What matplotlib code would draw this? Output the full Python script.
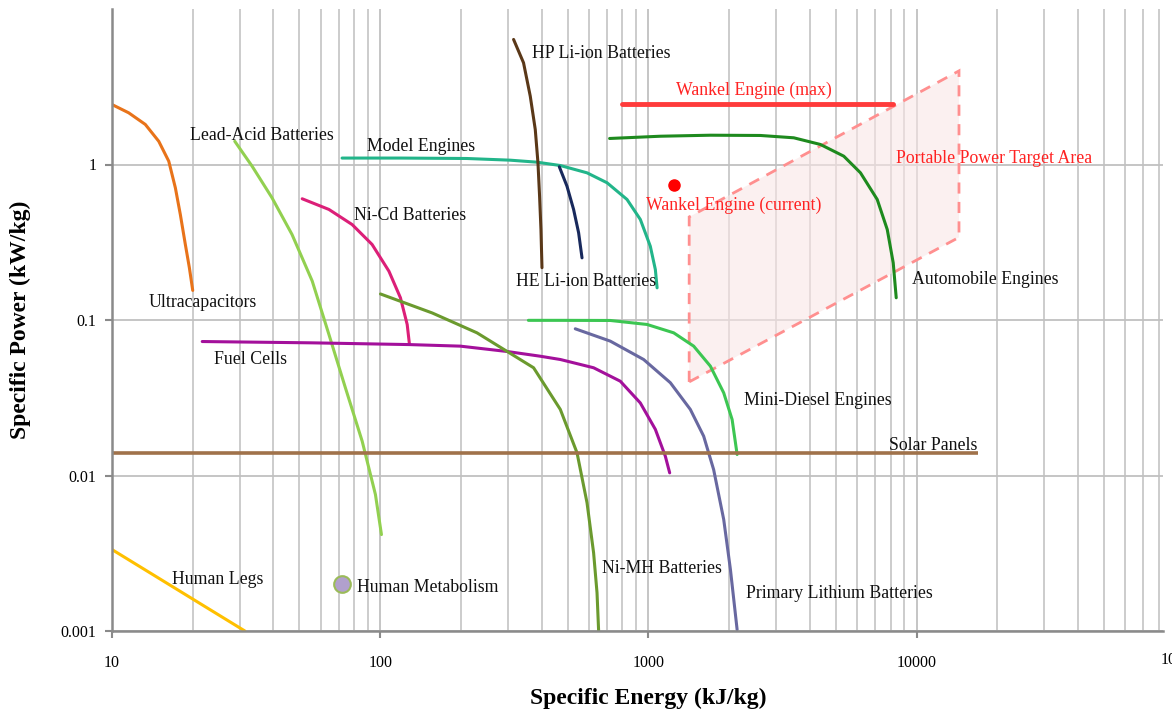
import matplotlib
matplotlib.use("Agg")
import matplotlib.pyplot as plt
from matplotlib.patches import Polygon

plt.rcParams['font.family'] = ['Liberation Serif', 'DejaVu Serif']
plt.rcParams['lines.solid_joinstyle'] = 'round'
plt.rcParams['lines.solid_capstyle'] = 'round'

# specific energy (kJ/kg) and specific power (kW/kg) per technology
ultracap_e = [10, 11.54, 13.31, 14.94, 16.28, 17.23, 17.98, 18.77, 19.43, 20.0]
ultracap_p = [2.43, 2.15, 1.81, 1.41, 1.05, 0.708, 0.477, 0.306, 0.217, 0.155]

lead_acid_e = [28.7, 33.3, 39.5, 46.9, 55.8, 64.4, 74.2, 85.7, 96.0, 101.1]
lead_acid_p = [1.41, 0.975, 0.611, 0.355, 0.178, 0.0807, 0.0366, 0.0166, 0.00755, 0.00417]

nicd_e = [51.2, 64.4, 78.6, 93.3, 107.8, 119.0, 126.1, 128.6]
nicd_p = [0.602, 0.514, 0.411, 0.306, 0.206, 0.139, 0.0936, 0.0696]

fuel_cell_e = [21.7, 55.8, 128, 199, 298, 395, 470, 625, 786, 933, 1062, 1157, 1201]
fuel_cell_p = [0.0727, 0.0713, 0.0695, 0.0679, 0.0627, 0.0585, 0.0557, 0.0493, 0.0404,
               0.0293, 0.0198, 0.0133, 0.0104]

nimh_e = [100.3, 156.3, 229.6, 297.8, 373.3, 469.6, 542, 590.6, 625, 643.6, 652.5]
nimh_p = [0.147, 0.111, 0.0827, 0.0627, 0.0493, 0.0266, 0.0140, 0.00668, 0.00318, 0.00176, 0.001]

model_eng_e = [72.1, 118.8, 210.6, 305.6, 384.3, 469.6, 590.6, 701.4, 832.6, 933.6, 1017, 1062, 1078]
model_eng_p = [1.10, 1.10, 1.093, 1.066, 1.035, 0.985, 0.884, 0.763, 0.596, 0.443, 0.298, 0.211, 0.161]

hp_liion_e = [314.4, 342.4, 362.8, 378.7, 387.6, 393, 397.7, 401.2]
hp_liion_p = [6.37, 4.51, 2.75, 1.68, 1.025, 0.626, 0.382, 0.217]

he_liion_e = [465.6, 497.3, 526.3, 549.5, 565.8]
he_liion_p = [0.967, 0.725, 0.514, 0.364, 0.251]

diesel_e = [357, 469.6, 721.5, 988.8, 1243, 1476, 1703, 1910, 2053, 2143]
diesel_p = [0.0995, 0.0995, 0.0993, 0.0936, 0.0827, 0.0679, 0.0505, 0.0340, 0.0229, 0.01365]

prim_li_e = [534, 721.5, 960.5, 1208, 1434, 1608, 1752, 1910, 2023, 2143]
prim_li_p = [0.0878, 0.0731, 0.0557, 0.0395, 0.0266, 0.0179, 0.0109, 0.00521, 0.00249, 0.00102]

auto_eng_e = [717, 1109, 1703, 2617, 3485, 4383, 5355, 6180, 7135, 7777, 8187, 8400]
auto_eng_p = [1.47, 1.52, 1.543, 1.537, 1.485, 1.345, 1.131, 0.884, 0.596, 0.382, 0.233, 0.139]

solar_e = [10, 17000]
solar_p = [0.014, 0.014]

wankel_max_e = [800, 8200]
wankel_max_p = [2.45, 2.45]

wankel_now_e = 1250
wankel_now_p = 0.743

legs_e = [10, 31.3]
legs_p = [0.00334, 0.001]

metabolism_e = 72
metabolism_p = 0.002

target_e = [1420, 1420, 14400, 14400]
target_p = [0.04, 0.46, 4.0, 0.34]

fig = plt.figure(figsize=(11.72, 7.13), dpi=100)
ax = fig.add_axes([112 / 1172, 82 / 713, 1051 / 1172, 622 / 713])
ax.set_xscale('log')
ax.set_yscale('log')
ax.set_xlim(10, 83000)
ax.set_ylim(0.001, 10)

ax.grid(True, which='major', axis='both', color='#c0c0c0', lw=1.3)
ax.grid(True, which='minor', axis='x', color='#c8c8c8', lw=1.3)
ax.set_axisbelow(True)
for side in ['top', 'right']:
    ax.spines[side].set_visible(False)
for side in ['left', 'bottom']:
    ax.spines[side].set_color('#8a8a8a')
    ax.spines[side].set_linewidth(1.8)
ax.tick_params(which='major', length=5, width=1.5, color='#8a8a8a', labelsize=11.5, pad=12)
ax.tick_params(which='minor', length=0)
ax.set_xticks([10, 100, 1000, 10000])
ax.set_xticklabels(['10', '100', '1000', '10000'])
ax.set_yticks([0.001, 0.01, 0.1, 1])
ax.set_yticklabels(['0.001', '0.01', '0.1', '1'])
ax.tick_params(axis='y', pad=6)
ax.text(1e5, -0.046, '100000', transform=ax.get_xaxis_transform(), ha='center', va='center',
        fontsize=11.5, clip_on=False)

# target region
ax.add_patch(Polygon(list(zip(target_e, target_p)), closed=True, facecolor='#f9e6e6', alpha=0.6,
                     edgecolor='none', zorder=1))
ax.add_patch(Polygon(list(zip(target_e, target_p)), closed=True, facecolor='none',
                     edgecolor='#ff8f8f', lw=2, ls=(0, (4, 3)), zorder=2))

lw = 2.2
ax.plot(ultracap_e, ultracap_p, color='#e8731a', lw=lw)
ax.plot(lead_acid_e, lead_acid_p, color='#92d050', lw=lw)
ax.plot(nicd_e, nicd_p, color='#dc1f78', lw=lw)
ax.plot(fuel_cell_e, fuel_cell_p, color='#a3109b', lw=lw)
ax.plot(nimh_e, nimh_p, color='#6b9a2e', lw=lw)
ax.plot(model_eng_e, model_eng_p, color='#22b58a', lw=lw)
ax.plot(hp_liion_e, hp_liion_p, color='#5a3818', lw=lw)
ax.plot(he_liion_e, he_liion_p, color='#18295c', lw=lw)
ax.plot(diesel_e, diesel_p, color='#3cc652', lw=lw)
ax.plot(prim_li_e, prim_li_p, color='#6868a0', lw=lw)
ax.plot(auto_eng_e, auto_eng_p, color='#1e8a1e', lw=lw)
ax.plot(solar_e, solar_p, color='#a0724a', lw=2.6, solid_capstyle='butt')
ax.plot(wankel_max_e, wankel_max_p, color='#ff3b3b', lw=3.5)
ax.plot(legs_e, legs_p, color='#ffc000', lw=lw)
ax.plot([wankel_now_e], [wankel_now_p], 'o', color='#ff0000', ms=8)
ax.plot([metabolism_e], [metabolism_p], 'o', mfc='#b1a0cd', mec='#9bbb59', mew=1.5, ms=12)

# curve labels: (text, energy, power, colour)
labels = [
    ('HP Li-ion Batteries', 369, 5.17, '#111111'),
    ('Wankel Engine (max)', 1270, 2.99, '#ff2222'),
    ('Model Engines', 89.3, 1.31, '#111111'),
    ('Lead-Acid Batteries', 19.5, 1.54, '#111111'),
    ('Portable Power Target Area', 8360, 1.093, '#ff2222'),
    ('Wankel Engine (current)', 984, 0.545, '#ff2222'),
    ('Ni-Cd Batteries', 80.0, 0.470, '#111111'),
    ('HE Li-ion Batteries', 321, 0.177, '#111111'),
    ('Automobile Engines', 9660, 0.182, '#111111'),
    ('Ultracapacitors', 13.7, 0.130, '#111111'),
    ('Fuel Cells', 24.0, 0.0557, '#111111'),
    ('Mini-Diesel Engines', 2280, 0.0304, '#111111'),
    ('Solar Panels', 7870, 0.0156, '#111111'),
    ('Human Legs', 16.7, 0.00214, '#111111'),
    ('Human Metabolism', 82.0, 0.00190, '#111111'),
    ('Ni-MH Batteries', 673, 0.00252, '#111111'),
    ('Primary Lithium Batteries', 2320, 0.00174, '#111111'),
]
for text, e, p, c in labels:
    ax.text(e, p, text, ha='left', va='center', fontsize=12.8, color=c, zorder=5)

ax.set_xlabel('Specific Energy (kJ/kg)', fontsize=17, fontweight='bold')
ax.xaxis.set_label_coords((648 - 112) / 1051, -0.092)
ax.set_ylabel('Specific Power (kW/kg)', fontsize=17, fontweight='bold')
ax.yaxis.set_label_coords(-(112 - 31) / 1051, 0.5)

fig.savefig('out.png', dpi=100)
